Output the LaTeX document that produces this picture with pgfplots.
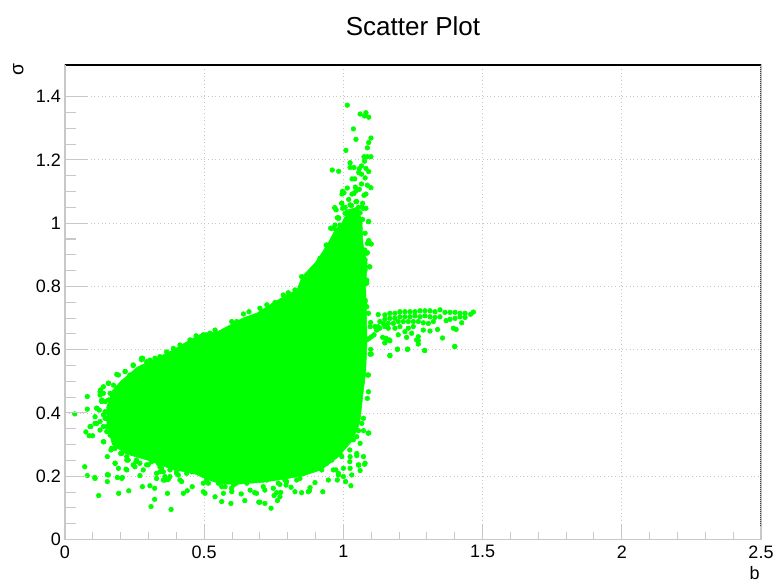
\documentclass[border=0pt]{standalone}
\usepackage{fontspec}
\setmainfont{Liberation Sans}
\usepackage{pgfplots}
\pgfplotsset{compat=1.18}
\definecolor{rootgreen}{RGB}{0,255,0}
\definecolor{tickgray}{RGB}{200,200,200}
\begin{document}
\begin{tikzpicture}
\useasboundingbox (-48.75pt,-31.125pt) rectangle (531.75pt,404.625pt);
\begin{axis}[
  name=main,
  at={(0,0)}, anchor=south west,
  scale only axis, width=522pt, height=355.875pt,
  xmin=0, xmax=2.5, ymin=0, ymax=1.5,
  xtick={0,0.5,1,1.5,2,2.5},
  ytick={0,0.2,0.4,0.6,0.8,1,1.2,1.4},
  minor x tick num=4, minor y tick num=3,
  xtick pos=bottom, ytick pos=left,
  tick align=inside,
  tickwidth=10.5pt, subtickwidth=5.25pt,
  tick style={draw=tickgray, line width=0.8pt},
  axis line style={draw=tickgray, line width=0.8pt},
  grid=major,
  major grid style={draw=gray!45, line width=0.6pt, dash pattern=on 0.75pt off 2pt},
  tick label style={font=\fontsize{13.5}{16}\selectfont},
  /pgf/number format/assume math mode=true,
  xticklabel style={yshift=-1pt},
  yticklabel style={xshift=0.5pt},
  title={Scatter Plot},
  title style={at={(axis description cs:0.5,1.065)}, anchor=center, font=\fontsize{19.5}{22}\selectfont},
  xlabel={b},
  xlabel style={at={(axis description cs:0.991,-0.07)}, anchor=center, font=\fontsize{13.5}{16}\selectfont},
  ylabel={σ},
  ylabel style={at={(axis description cs:-0.067,0.99)}, anchor=center, font=\fontsize{14.5}{16}\selectfont},
]
% dense core
\addplot[fill=rootgreen, draw=rootgreen] coordinates {
(.150,.370) (.150,.420) (.170,.470) (.200,.500) (.260,.545) (.330,.574) (.388,.599)
(.449,.631) (.496,.653) (.546,.656) (.593,.678) (.639,.700) (.690,.716) (.747,.748)
(.797,.773) (.833,.789) (.851,.830) (.898,.874) (.923,.906) (.945,.937) (.970,.978)
(.995,1.001) (1.017,1.042) (1.052,1.051) (1.067,1.001) (1.070,.937) (1.085,.874)
(1.080,.798) (1.082,.735) (1.085,.631) (1.080,.526) (1.072,.473) (1.060,.378)
(1.055,.360) (1.030,.310) (.980,.260) (.920,.220) (.850,.200) (.780,.190) (.700,.180)
(.620,.175) (.560,.175) (.510,.190) (.460,.210) (.390,.220) (.300,.250) (.220,.270)
(.170,.300)
} -- cycle;
% scattered points, left and lower edge
\addplot[only marks, mark=*, mark size=1.75pt, color=rootgreen, mark options={draw=none, fill=rootgreen}] coordinates {
(.035,.397) (.080,.452) (.080,.412) (.075,.340) (.090,.357) (.087,.328) (.099,.328)
(.071,.230) (.080,.202) (.107,.196) (.121,.139) (.152,.205) (.152,.183) (.152,.262)
(.139,.309) (.188,.196) (.206,.196) (.193,.146) (.229,.154) (.278,.167) (.305,.170)
(.322,.162) (.322,.127) (.309,.104) (.381,.095) (.368,.146) (.425,.146) (.439,.154)
(.457,.167) (.269,.202) (.251,.230) (.219,.222) (.180,.241) (.192,.225) (.168,.288)
(.165,.283) (.108,.388) (.114,.415) (.123,.409) (.128,.473) (.138,.483) (.156,.494)
(.186,.522) (.216,.531) (.245,.550) (.257,.531) (.275,.573) (.293,.562) (.323,.573)
(.126,.457) (.132,.436) (.138,.394) (.150,.357) (.180,.315) (.198,.346) (.222,.262)
(.245,.283) (.269,.294) (.293,.267) (.311,.246) (.335,.241) (.353,.214) (.377,.199)
(.401,.214) (.419,.183) (.437,.209) (.485,.209) (.497,.178) (.515,.178) (.539,.135)
(.563,.120) (.596,.114) (.646,.123) (.696,.118) (.563,.167) (.598,.162) (.633,.144)
(.615,.178) (.591,.188) (.329,.193) (.359,.188) (.347,.225) (.383,.236) (.419,.230)
(.455,.225) (.293,.236) (.281,.220) (.255,.246) (.227,.251) (.200,.272) (.180,.288)
(.114,.367) (.126,.346) (.162,.330) (.150,.383) (.168,.420) (.186,.404) (.174,.441)
(.162,.462) (.144,.436)
(.700,.118) (.718,.114) (.740,.099) (.763,.123) (.751,.139) (.775,.149) (.760,.148)
(.772,.174) (.796,.183) (.812,.165) (.826,.151) (.850,.148) (.878,.154) (.926,.151)
(.880,.164) (.898,.180) (.946,.188) (.978,.188) (1.008,.183) (1.027,.170) (1.000,.225)
(.973,.220) (1.024,.262) (1.048,.265) (1.072,.262) (1.076,.238) (1.055,.235) (1.060,.218)
(1.091,.337) (1.072,.344) (1.054,.344) (1.072,.383) (1.086,.446) (1.090,.467) (1.090,.520)
(1.096,.586) (.681,.148) (.688,.146) (.794,.204) (.844,.193) (.868,.214) (.922,.220)
(.952,.251) (.988,.272) (1.024,.225) (1.030,.204) (1.000,.199) (.982,.209) (1.036,.315)
(1.012,.355) (.676,.199) (.724,.188) (.748,.209)
% fringe of the core
(.245,.552) (.192,.520) (.216,.531) (.233,.520) (.257,.531) (.275,.568) (.156,.494)
(.174,.488) (.186,.478) (.126,.467) (.138,.462) (.132,.441) (.156,.441) (.174,.441)
(.114,.415) (.144,.404) (.162,.415) (.144,.383) (.126,.373) (.093,.357) (.108,.367)
(.138,.357) (.150,.341) (.138,.309) (.180,.315) (.198,.299) (.168,.288) (.204,.272)
(.222,.251) (.180,.241) (.222,.220) (.245,.236) (.269,.241) (.257,.251) (.239,.283)
(.275,.272) (.317,.251) (.299,.236) (.347,.246) (.341,.214) (.359,.199) (.389,.241)
(.407,.204) (.437,.236) (.455,.214) (.156,.204) (.108,.193) (.204,.193)
(.497,.151) (.503,.146) (.569,.146) (.599,.151) (.665,.156) (.575,.167) (.605,.172)
(.653,.178) (.712,.167) (.329,.209) (.353,.188) (.371,.190) (.413,.188) (.461,.214)
(.491,.209) (.509,.188) (.551,.178) (.341,.230) (.377,.220) (.401,.209) (.539,.193)
(.593,.188) (.629,.183) (.688,.188) (.724,.193)
(.718,.156) (.748,.162) (.766,.178) (.772,.135) (.794,.172) (.874,.151) (.832,.188)
(.790,.188) (.742,.193) (.712,.188) (.964,.220) (.982,.204) (.940,.241) (.958,.251)
(.994,.262) (1.023,.246) (1.054,.236) (1.078,.241) (1.023,.283) (1.048,.272) (1.060,.304)
(1.048,.325) (1.089,.336) (1.066,.367) (1.042,.346) (1.018,.351) (1.000,.304) (.976,.272)
(.880,.220) (.856,.209) (.772,.220) (.814,.220)
(.279,.573) (.471,.644) (.449,.631) (.497,.647) (.521,.652) (.539,.662) (.599,.689)
(.617,.689) (.641,.713) (.661,.720) (.700,.731) (.725,.742) (.754,.749) (.784,.773)
(.802,.780) (.826,.789) (.413,.615) (.389,.604) (.365,.593) (.341,.578) (.305,.567)
};
% spike above b = 1
\addplot[only marks, mark=*, mark size=1.75pt, color=rootgreen, mark options={draw=none, fill=rootgreen}] coordinates {
(1.014,1.373) (1.060,1.345) (1.081,1.349) (1.076,1.339) (1.091,1.335) (1.036,1.298)
(1.045,1.265) (1.099,1.269) (1.091,1.255) (1.086,1.238) (1.009,1.230) (1.074,1.210)
(1.086,1.210) (1.099,1.210) (1.076,1.196) (1.024,1.191) (1.024,1.176) (1.038,1.176)
(.960,1.168) (.983,1.164) (1.065,1.181) (1.057,1.172) (1.081,1.173) (1.091,1.163)
(1.055,1.160) (1.065,1.155) (1.078,1.143) (1.031,1.140) (1.041,1.140) (1.086,1.120)
(1.099,1.112) (1.043,1.114) (1.014,1.111) (.997,1.101) (1.002,1.096) (.995,1.092)
(1.057,1.107) (1.045,1.102) (1.065,1.124) (1.081,1.092) (1.074,1.088) (1.031,1.092)
(1.038,1.094) (1.019,1.075) (.994,1.063) (1.045,1.068) (1.069,1.063) (1.081,1.047)
(.969,1.049) (.974,1.042) (.997,1.047) (1.006,1.050) (1.029,1.056) (1.054,1.050)
(1.048,1.042) (1.067,1.050) (1.014,1.036) (1.026,1.026) (1.036,1.023) (1.060,1.033)
(1.069,1.012) (.978,1.017) (.983,1.017) (1.091,1.005) (.954,.984) (.966,.984)
(.938,.930) (1.091,.945) (1.100,.934) (1.086,.936) (1.078,.968) (1.077,.915)
(1.086,.907) (1.093,.862) (1.078,.884) (.988,.994) (1.000,.989) (1.054,.994)
(.976,.957) (.962,.947) (.928,.894) (.946,.905)
(.970,1.047) (.982,1.015) (.958,.984) (.940,.931) (1.095,.936) (1.084,.905) (1.095,.862)
(1.078,.852) (1.084,.820) (1.006,1.031) (1.024,1.058) (1.048,1.068) (1.071,1.047)
(1.090,1.005) (.994,1.063) (.916,.889) (.892,.857) (.850,.831) (.874,.836) (.898,.836)
(.970,.994) (1.078,.757) (1.084,.736)
};
% wing from b = 1.1 to 1.47
\addplot[only marks, mark=*, mark size=1.75pt, color=rootgreen, mark options={draw=none, fill=rootgreen}] coordinates {
(1.467,.719) (1.457,.712) (1.437,.715) (1.419,.715) (1.401,.718) (1.383,.718) (1.365,.718)
(1.347,.726) (1.329,.720) (1.311,.723) (1.293,.723) (1.275,.723) (1.257,.720) (1.239,.720)
(1.221,.720) (1.203,.720) (1.185,.715) (1.167,.715) (1.149,.710) (1.125,.711) (1.437,.702)
(1.419,.704) (1.401,.699) (1.383,.696) (1.369,.692) (1.347,.704) (1.329,.702) (1.311,.704)
(1.293,.707) (1.275,.704) (1.257,.707) (1.239,.704) (1.221,.704) (1.203,.704) (1.185,.699)
(1.167,.699) (1.149,.696) (1.131,.689) (1.323,.689) (1.305,.683) (1.287,.685) (1.269,.689)
(1.251,.689) (1.233,.689) (1.215,.689) (1.197,.689) (1.179,.683) (1.161,.683) (1.143,.683)
(1.125,.673) (1.113,.673) (1.098,.686) (1.425,.685) (1.395,.668) (1.405,.664) (1.338,.664)
(1.311,.659) (1.287,.662) (1.251,.673) (1.233,.668) (1.203,.673) (1.185,.668) (1.161,.668)
(1.149,.673) (1.131,.668) (1.119,.662) (1.110,.647) (1.093,.636) (1.141,.639) (1.153,.636)
(1.165,.631) (1.149,.622) (1.197,.647) (1.221,.657) (1.245,.652) (1.227,.639) (1.269,.641)
(1.263,.631) (1.269,.618) (1.356,.637) (1.400,.610) (1.292,.598) (1.231,.602) (1.194,.602)
(1.167,.582) (1.098,.601) (1.100,.586) (1.101,.641) (1.084,.631) (1.096,.673) (1.090,.715)
(1.078,.752) (1.084,.810) (1.087,.520) (1.167,.581) (1.194,.601) (1.230,.601) (1.292,.597)
(1.400,.610) (1.149,.622) (1.167,.628) (1.269,.629)
};
\draw[black, line width=0.8pt] (rel axis cs:0,1) -- (rel axis cs:1,1);
\draw[black!75, line width=0.8pt, dash pattern=on 1pt off 0.5pt] (rel axis cs:1,1) -- (rel axis cs:1,0.03);
\end{axis}
% longer y ticks on top of the first axis
\begin{axis}[
  at={(0,0)}, anchor=south west,
  scale only axis, width=522pt, height=355.875pt,
  xmin=0, xmax=2.5, ymin=0, ymax=1.5,
  axis x line=none, axis y line=left,
  axis line style={draw=tickgray, line width=0.8pt, -},
  xtick=\empty,
  ytick={0,0.2,0.4,0.6,0.8,1,1.2,1.4},
  yticklabels={},
  minor y tick num=3,
  tick align=inside,
  tickwidth=16.5pt, subtickwidth=8.25pt,
  tick style={draw=tickgray, line width=0.8pt},
]
\end{axis}
\end{tikzpicture}
\end{document}
